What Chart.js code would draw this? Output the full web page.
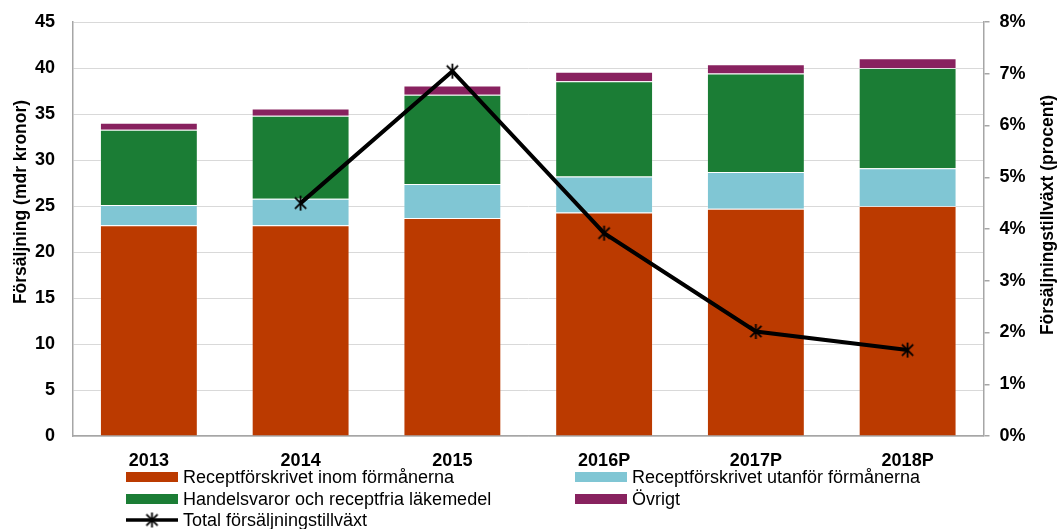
<!DOCTYPE html>
<html>
<head>
<meta charset="utf-8">
<script src="https://cdn.jsdelivr.net/npm/chart.js@4/dist/chart.umd.min.js"></script>
<style>
  html, body { margin: 0; padding: 0; background: #fff; }
  #wrap { width: 1058px; height: 529px; position: relative; }
</style>
</head>
<body>
<div id="wrap"><canvas id="mainChart" width="1058" height="529"></canvas></div>
<script>
// Data
const years = ['2013', '2014', '2015', '2016P', '2017P', '2018P'];
const inomFormaner = [22.9, 22.9, 23.7, 24.3, 24.7, 25.0];
const utanforFormaner = [2.2, 2.9, 3.7, 3.9, 4.0, 4.1];
const handelsvaror = [8.2, 9.0, 9.7, 10.35, 10.7, 10.9];
const ovrigt = [0.75, 0.8, 1.0, 1.05, 1.0, 1.05];
const totalGrowth = [null, 4.5, 7.05, 3.92, 2.02, 1.66];
const leftTicks = [0, 5, 10, 15, 20, 25, 30, 35, 40, 45];
const rightTicks = [0, 1, 2, 3, 4, 5, 6, 7, 8];

const FONT = '"Liberation Sans", Arial, sans-serif';

// Excel style star marker (X + vertical bar)
function makeStar(size, lw) {
    const c = document.createElement('canvas');
    c.width = size; c.height = size;
    const g = c.getContext('2d');
    const m = size / 2, r = size / 2 - 1;
    g.strokeStyle = '#000';
    g.lineWidth = lw;
    g.beginPath();
    g.moveTo(m, m - r); g.lineTo(m, m + r);
    g.moveTo(m - r * 0.75, m - r * 0.75); g.lineTo(m + r * 0.75, m + r * 0.75);
    g.moveTo(m + r * 0.75, m - r * 0.75); g.lineTo(m - r * 0.75, m + r * 0.75);
    g.stroke();
    return c;
}
const starImg = makeStar(17, 1.8);

// Legend slots: [datasetIndex, x of swatch, y center]
const legendSlots = [
    [0, 126, 477],
    [2, 126, 499],
    [4, 126, 520],
    [1, 575, 477],
    [3, 575, 499]
];

const extrasPlugin = {
    id: 'extras',
    afterDraw(chart) {
        const c = chart.ctx;
        c.save();
        // axis titles
        c.fillStyle = '#000';
        c.font = 'bold 17.5px ' + FONT;
        c.textAlign = 'center';
        c.textBaseline = 'middle';
        c.save();
        c.translate(21, 202);
        c.rotate(-Math.PI / 2);
        c.fillText('Försäljning (mdr kronor)', 0, 0);
        c.restore();
        c.save();
        c.translate(1048, 215);
        c.rotate(-Math.PI / 2);
        c.fillText('Försäljningstillväxt (procent)', 0, 0);
        c.restore();

        // legend
        c.font = '18px ' + FONT;
        c.textAlign = 'left';
        legendSlots.forEach(([i, x, y]) => {
            const ds = chart.data.datasets[i];
            if (ds.type === 'line') {
                c.strokeStyle = ds.borderColor;
                c.lineWidth = 3.5;
                c.beginPath();
                c.moveTo(x, y); c.lineTo(x + 52, y);
                c.stroke();
                c.drawImage(starImg, x + 26 - 8.5, y - 8.5);
            } else {
                c.fillStyle = ds.backgroundColor;
                c.fillRect(x, y - 5, 52, 10);
            }
            c.fillStyle = '#000';
            c.fillText(ds.label, x + 57, y + 1);
        });
        c.restore();
    }
};

const ctx = document.getElementById('mainChart').getContext('2d');
const edge = 'rgba(255,255,255,0.2)';

const chart = new Chart(ctx, {
    type: 'bar',
    data: {
        labels: years,
        datasets: [
            {
                label: 'Receptförskrivet inom förmånerna',
                data: inomFormaner,
                backgroundColor: '#BB3A00',
                borderColor: edge,
                borderWidth: 1,
                order: 2
            },
            {
                label: 'Receptförskrivet utanför förmånerna',
                data: utanforFormaner,
                backgroundColor: '#80C6D4',
                borderColor: edge,
                borderWidth: 1,
                order: 2
            },
            {
                label: 'Handelsvaror och receptfria läkemedel',
                data: handelsvaror,
                backgroundColor: '#1B7D35',
                borderColor: edge,
                borderWidth: 1,
                order: 2
            },
            {
                label: 'Övrigt',
                data: ovrigt,
                backgroundColor: '#88225F',
                borderColor: edge,
                borderWidth: 1,
                order: 2
            },
            {
                type: 'line',
                label: 'Total försäljningstillväxt',
                data: totalGrowth,
                yAxisID: 'y1',
                borderColor: '#000',
                backgroundColor: '#000',
                borderWidth: 4,
                tension: 0,
                pointStyle: starImg,
                pointRadius: 7,
                order: 1
            }
        ]
    },
    options: {
        responsive: false,
        animation: false,
        layout: { padding: { top: 22, left: 0, right: 0, bottom: 0 } },
        plugins: {
            legend: { display: false },
            tooltip: { enabled: false }
        },
        datasets: {
            bar: { barPercentage: 0.645, categoryPercentage: 1 }
        },
        scales: {
            x: {
                stacked: true,
                grid: { display: true, drawOnChartArea: false, drawTicks: false },
                border: { display: true, color: '#A6A6A6', width: 1.5 },
                ticks: {
                    color: '#000',
                    font: { family: FONT, size: 18, weight: 'bold' },
                    padding: 14
                },
                afterFit: s => { s.height = 93; s.paddingLeft = 0; s.paddingRight = 0; }
            },
            y: {
                stacked: true,
                position: 'left',
                min: 0,
                max: 45,
                afterBuildTicks: s => { s.ticks = leftTicks.map(v => ({ value: v })); },
                grid: { color: '#D9D9D9', lineWidth: 1, drawTicks: false },
                border: { display: true, color: '#A6A6A6', width: 1.5 },
                ticks: {
                    color: '#000',
                    font: { family: FONT, size: 18, weight: 'bold' },
                    padding: 18
                },
                afterFit: s => { s.width = 73; s.paddingTop = 0; s.paddingBottom = 0; }
            },
            y1: {
                position: 'right',
                min: 0,
                max: 8,
                afterBuildTicks: s => { s.ticks = rightTicks.map(v => ({ value: v })); },
                grid: { drawOnChartArea: false, drawTicks: true, tickLength: 6, color: '#A6A6A6', lineWidth: 1.5 },
                border: { display: true, color: '#A6A6A6', width: 1.5 },
                ticks: {
                    color: '#000',
                    font: { family: FONT, size: 18, weight: 'bold' },
                    padding: 10,
                    callback: v => v + '%'
                },
                afterFit: s => { s.width = 74.5; s.paddingTop = 0; s.paddingBottom = 0; }
            }
        }
    },
    plugins: [extrasPlugin]
});
</script>
</body>
</html>
